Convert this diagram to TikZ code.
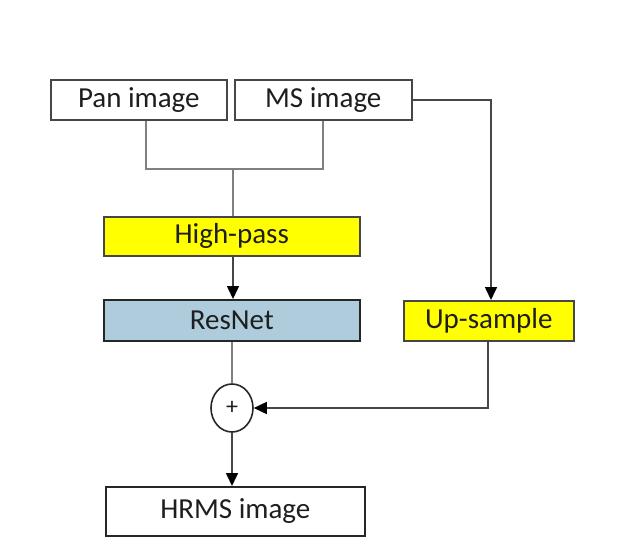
\documentclass[tikz,border=0pt]{standalone}
\usepackage{fontspec}
\setmainfont{Carlito}
\usetikzlibrary{arrows.meta,shapes.geometric}
\definecolor{hpyellow}{RGB}{255,255,0}
\definecolor{resblue}{RGB}{174,204,220}
\definecolor{linegrey}{RGB}{70,70,70}
\definecolor{txt}{RGB}{30,30,30}
\begin{document}
\begin{tikzpicture}[x=1pt,y=-1pt,
  blk/.style={draw=linegrey,line width=1.6pt,inner sep=0pt,anchor=north west,font=\fontsize{29}{34}\selectfont,text=txt},
  wire/.style={draw=linegrey,line width=1.6pt},
  arr/.style={wire,-{Triangle[length=13pt,width=12pt,fill=black,color=black]}}]
\useasboundingbox (0,0) rectangle (622,554);
\node[blk,minimum width=176pt,minimum height=40pt] (pan) at (50,79) {Pan image};
\node[blk,minimum width=177pt,minimum height=40pt] (ms) at (234,79) {MS image};
\node[blk,fill=hpyellow,minimum width=256pt,minimum height=39pt] (hp) at (103,216) {High-pass};
\node[blk,fill=resblue,draw=black!85,minimum width=256pt,minimum height=41pt] (res) at (103,299) {ResNet};
\node[blk,fill=hpyellow,minimum width=170pt,minimum height=40pt] (up) at (403,300) {Up-sample};
\node[draw=black!85,line width=1.6pt,ellipse,minimum width=42pt,minimum height=48pt,inner sep=0pt,font=\fontsize{24}{26}\selectfont,text=txt] (plus) at (232,408) {+};
\node[blk,draw=black!85,minimum width=259pt,minimum height=49pt] (hrms) at (105,486) {HRMS image};
\coordinate (jn) at (233,169);
\draw[wire,draw=gray] (pan.south -| 146,0) |- (jn) -| (ms.south -| 323,0);
\draw[wire,draw=gray] (jn) -- (jn |- hp.north);
\draw[arr] (hp.south -| 233,0) -- (res.north -| 233,0);
\draw[arr] (ms.east) -| (up.north -| 491,0);
\draw[wire,draw=gray] (res.south -| 232,0) -- (plus.north);
\draw[arr] (up.south -| 488,0) |- (plus.east);
\draw[arr] (plus.south) -- (hrms.north -| 232,0);
\end{tikzpicture}
\end{document}
